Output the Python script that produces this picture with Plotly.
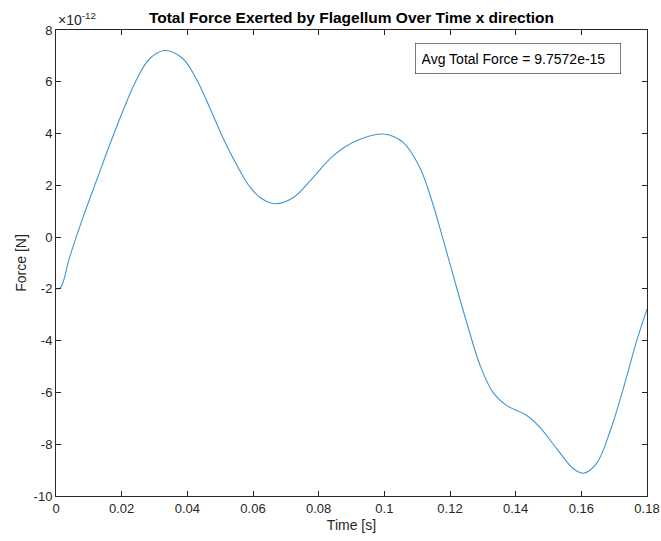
import plotly.graph_objects as go

# Time samples [s]
time_s = [0.0, 0.0014, 0.0041, 0.0082, 0.0123, 0.0163, 0.0204, 0.0244, 0.0285, 0.0331,
          0.0386, 0.0427, 0.0468, 0.0508, 0.0549, 0.059, 0.0625, 0.0666, 0.0722, 0.0783,
          0.0844, 0.0915, 0.0996, 0.1057, 0.1108, 0.1148, 0.1179, 0.1209, 0.125, 0.1291,
          0.1331, 0.1372, 0.1433, 0.1474, 0.1525, 0.1575, 0.1606, 0.1646, 0.1687, 0.1728,
          0.1768, 0.18]
# Force in units of 1e-12 N
force_e12 = [-2.0, -1.95, -0.8, 0.75, 2.17, 3.55, 4.88, 6.05, 6.89, 7.21,
             6.9, 6.12, 5.01, 3.85, 2.82, 1.95, 1.5, 1.29, 1.52, 2.30,
             3.14, 3.72, 3.98, 3.66, 2.69, 1.27, -0.09, -1.45, -3.26, -4.93,
             -6.0, -6.5, -6.88, -7.35, -8.17, -8.94, -9.12, -8.75, -7.52, -5.84,
             -4.03, -2.78]

y_tick_vals = [-10, -8, -6, -4, -2, 0, 2, 4, 6, 8]
y_tick_text = ["-10", "-8", "-6", "-4", "-2", "0", "2", "4", "6", "8"]
x_tick_vals = [0, 0.02, 0.04, 0.06, 0.08, 0.1, 0.12, 0.14, 0.16, 0.18]
x_tick_text = ["0", "0.02", "0.04", "0.06", "0.08", "0.1", "0.12", "0.14", "0.16", "0.18"]

title_text = "Total Force Exerted by Flagellum Over Time x direction"
legend_text = "Avg Total Force = 9.7572e-15"
x_label = "Time [s]"
y_label = "Force [N]"

axis_col = "#262626"
font_fam = "Liberation Sans, Arial, Helvetica, sans-serif"

L, R, T, B = 56, 14, 30, 45
W, H = 661, 541
pw, ph = W - L - R, H - T - B

fig = go.Figure()
fig.add_trace(go.Scatter(x=time_s, y=force_e12, mode="lines",
                         line=dict(color="rgba(0,114,189,0.75)", width=1.1, shape="spline", smoothing=1.0),
                         showlegend=False, hoverinfo="skip"))

fig.update_layout(
    template="none",
    width=W, height=H,
    margin=dict(l=L, r=R, t=T, b=B, pad=0),
    paper_bgcolor="white", plot_bgcolor="white",
    font=dict(family=font_fam, size=13, color=axis_col),
    title=dict(text="<b>" + title_text + "</b>", x=(L + pw / 2) / W, xanchor="center",
               y=1 - 18 / H, yanchor="middle", font=dict(size=15.5, color="black")),
    showlegend=False,
)
common = dict(showgrid=False, zeroline=False, showline=True, linecolor=axis_col, linewidth=1,
              mirror="ticks", ticks="inside", ticklen=5, tickcolor=axis_col, tickwidth=1,
              automargin=False, tickfont=dict(size=13, color=axis_col), tickmode="array")
fig.update_xaxes(range=[0, 0.18], tickvals=x_tick_vals, ticktext=x_tick_text,
                 title=dict(text=x_label, standoff=5, font=dict(size=14)), **common)
fig.update_yaxes(range=[-10, 8], tickvals=y_tick_vals, ticktext=y_tick_text,
                 title=dict(text=y_label, standoff=3, font=dict(size=14)), **common)

fig.add_annotation(xref="paper", yref="paper", x=0, y=1, xanchor="left", yanchor="bottom",
                   text="×10<sup>-12</sup>", showarrow=False, yshift=0,
                   font=dict(size=14, color=axis_col))
fig.add_annotation(xref="paper", yref="paper", x=(415 - L) / pw, y=1 - (43 - T) / ph,
                   xanchor="left", yanchor="top", text=legend_text, showarrow=False,
                   bordercolor="#262626", borderwidth=0.6, borderpad=6, bgcolor="white",
                   font=dict(size=14, color="black"), width=193, height=18, align="left")

fig.write_html("out.html", config={"displayModeBar": False},
               post_script="document.body.style.margin='0';document.body.style.padding='0';")
